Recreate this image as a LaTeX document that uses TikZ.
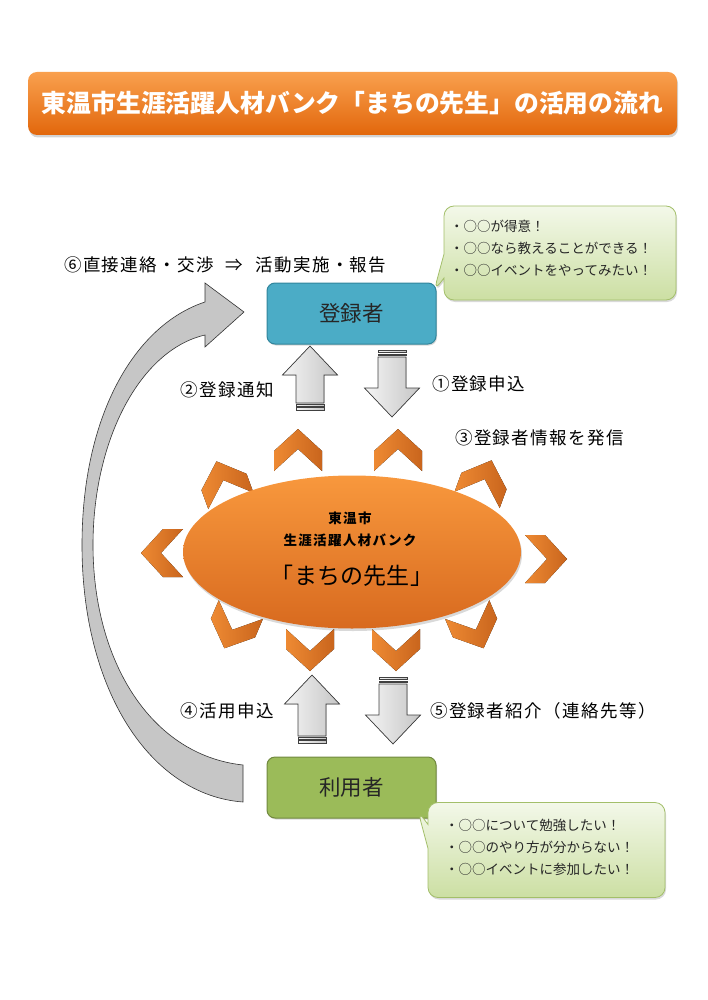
\documentclass[tikz,border=0pt]{standalone}
\usepackage{fontspec}
\setmainfont{Noto Sans CJK JP}
\usepackage{pdfrender}
\usetikzlibrary{shapes.geometric, shapes.callouts, shadows}
\definecolor{titleTop}{HTML}{F9A04E}
\definecolor{titleBot}{HTML}{E2670C}
\definecolor{titleRim}{HTML}{8E1C12}
\definecolor{regBlue}{HTML}{4BACC6}
\definecolor{regBlueLine}{HTML}{31859C}
\definecolor{userGreen}{HTML}{9BBB59}
\definecolor{userGreenLine}{HTML}{71893F}
\definecolor{noteTop}{HTML}{F3F8E9}
\definecolor{noteBot}{HTML}{CCDFA3}
\definecolor{noteLine}{HTML}{A3BF6A}
\definecolor{bankTop}{HTML}{F8983D}
\definecolor{bankBot}{HTML}{D86A1F}
\definecolor{chevLight}{HTML}{EE8A33}
\definecolor{chevDark}{HTML}{C9651D}
\definecolor{flowGray}{HTML}{C6C6C6}

\begin{document}
\begin{tikzpicture}[x=1pt, y=1pt,
    titlebar/.style={rectangle, rounded corners=9pt, top color=titleTop, bottom color=titleBot,
                     minimum width=649pt, minimum height=63pt,
                     drop shadow={opacity=0.35, shadow xshift=1pt, shadow yshift=-2.5pt}},
    titletext/.style={font=\bfseries\fontsize{24.8}{28}\selectfont, text=white, inner sep=0},
    member/.style={rectangle, rounded corners=8pt, minimum width=169pt, minimum height=61pt,
                   line width=1pt, font=\fontsize{21.5}{24}\selectfont, text=black!85,
                   drop shadow={opacity=0.3, shadow xshift=1pt, shadow yshift=-1.5pt}},
    note/.style={rectangle callout, rounded corners=10pt, top color=noteTop, bottom color=noteBot,
                 draw=noteLine, line width=0.8pt, callout pointer width=24pt, inner sep=0,
                 drop shadow={opacity=0.3, shadow xshift=1pt, shadow yshift=-2pt}},
    notetext/.style={align=left, font=\fontsize{13.5}{22}\selectfont, text=black!85, inner sep=0},
    lbl/.style={font=\fontsize{17.5}{20}\selectfont\addfontfeature{LetterSpace=8}, inner sep=0},
    banktext/.style={font=\bfseries\fontsize{13.5}{16}\selectfont\addfontfeature{LetterSpace=10}, inner sep=0},
    chev/.style={left color=chevLight, right color=chevDark},
    blockarr/.style={left color=gray!8, right color=gray!45, draw=black!75, line width=0.7pt}
  ]
  \useasboundingbox (0,0) rectangle (707,-1000);

  % title
  \node[titlebar] (titleBar) at (352.5,-103.5) {};
  \node[titletext] (titleText) at (352.5,-103)
    {\textpdfrender{TextRenderingMode=FillStroke, LineWidth=1pt,
       StrokeColor=titleRim}{東温市生涯活躍人材バンク「まちの先生」の活用の流れ}};

  % direct contact arrow
  \filldraw[fill=flowGray, draw=black!80, line width=0.6pt]
    (243,-802) .. controls (150,-795) and (82,-690) .. (82,-545)
    .. controls (82,-415) and (135,-325) .. (205,-302)
    -- (205,-283) -- (244,-312) -- (205,-347) -- (205,-335)
    .. controls (140,-350) and (93,-440) .. (93,-545)
    .. controls (93,-660) and (150,-755) .. (243,-765) -- cycle;

  % chevrons round the bank
  \foreach \px/\py/\ang in {298/451/90, 398/451/90, 224/482/110, 484/481/70,
                            163/553/180, 545/559/0, 233/628/247, 475/628/293,
                            310/649/270, 396/649/270} {
    \begin{scope}[shift={(\px,-\py)}, rotate=\ang-90]
      \fill[chev] (-24,-20) -- (-24,0) -- (0,22) -- (24,0) -- (24,-20) -- (0,2) -- cycle;
    \end{scope}
  }

  \node[ellipse, minimum width=338pt, minimum height=153pt, top color=bankTop, bottom color=bankBot,
        drop shadow={opacity=0.3, shadow xshift=1pt, shadow yshift=-2.5pt}] (bank) at (352,-552) {};
  \node[banktext] (bankCity) at (350,-518) {東温市};
  \node[banktext] (bankName) at (350,-540) {生涯活躍人材バンク};
  \node[font=\fontsize{23}{26}\selectfont\addfontfeature{LetterSpace=1}, inner sep=0] (bankTitle)
    at (352,-576) {「まちの先生」};

  % members
  \node[member, fill=regBlue, draw=regBlueLine] (regBox) at (351.5,-313.5) {登録者};
  \node[member, fill=userGreen, draw=userGreenLine] (userBox) at (351.5,-787.5) {利用者};

  % striped arrows
  \foreach \cx/\ta/\tp in {310/410/346, 392/350/417, 312/743/675, 393/677/744} {
    \pgfmathsetmacro\d{(\tp>\ta) ? 1 : -1}
    \pgfmathsetmacro\hb{-(\tp-29*\d)}
    \pgfmathsetmacro\bt{-(\ta+7*\d)}
    \pgfmathsetmacro\sa{-\ta}
    \pgfmathsetmacro\sb{-(\ta+2.5*\d)}
    \pgfmathsetmacro\sc{-(\ta+4*\d)}
    \pgfmathsetmacro\sd{-(\ta+5.5*\d)}
    \filldraw[blockarr] (\cx-14,\bt) -- (\cx-14,\hb) -- (\cx-27.5,\hb) -- (\cx,-\tp)
      -- (\cx+27.5,\hb) -- (\cx+14,\hb) -- (\cx+14,\bt) -- cycle;
    \filldraw[blockarr] (\cx-14,\sa) rectangle (\cx+14,\sb);
    \filldraw[blockarr] (\cx-14,\sc) rectangle (\cx+14,\sd);
  }

  % notes
  \node[note, minimum width=232pt, minimum height=94pt,
        callout absolute pointer={(434,-291)}] (regNote) at (560,-253) {};
  \node[notetext, anchor=west] (regNoteText) at (450,-248)
    {・○○が得意！\\・○○なら教えることができる！\\・○○イベントをやってみたい！};
  \node[note, minimum width=237pt, minimum height=95pt,
        callout absolute pointer={(418,-811)}] (userNote) at (546.5,-850) {};
  \node[notetext, anchor=west] (userNoteText) at (445,-847)
    {・○○について勉強したい！\\・○○のやり方が分からない！\\・○○イベントに参加したい！};

  % labels
  \node[lbl, anchor=west] (stepSix) at (64,-265)
    {⑥直接連絡・交渉\hspace{12pt}⇒\hspace{12pt}活動実施・報告};
  \node[lbl, anchor=east] (stepTwo) at (274,-390) {②登録通知};
  \node[lbl, anchor=west] (stepOne) at (432,-384) {①登録申込};
  \node[lbl, anchor=west] (stepThree) at (455,-438) {③登録者情報を発信};
  \node[lbl, anchor=east] (stepFour) at (274,-711) {④活用申込};
  \node[lbl, anchor=west] (stepFive) at (430,-711) {⑤登録者紹介（連絡先等）};
\end{tikzpicture}
\end{document}
